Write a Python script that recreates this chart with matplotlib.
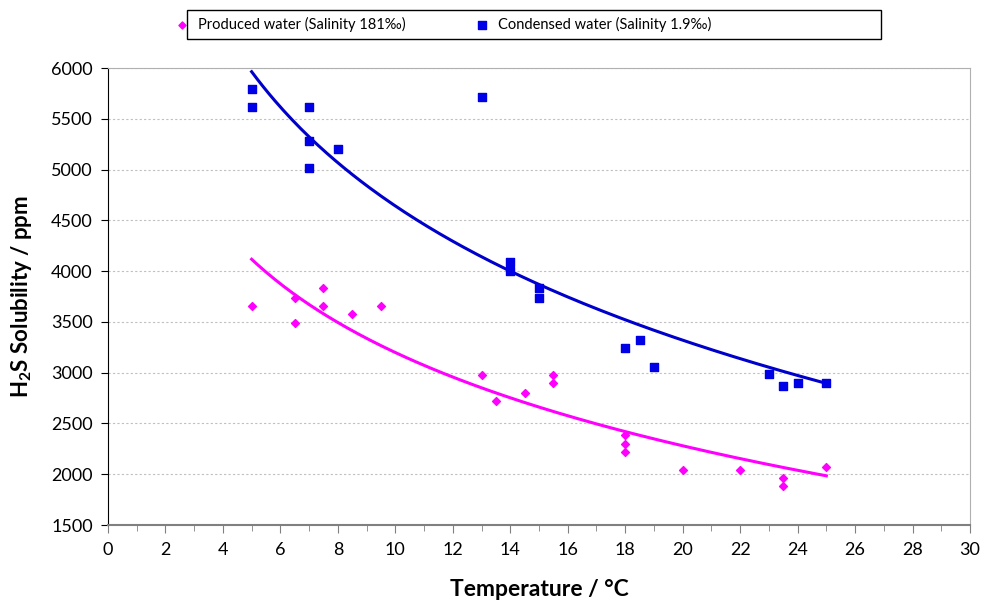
import numpy as np
import matplotlib.pyplot as plt
from matplotlib.ticker import MultipleLocator
from matplotlib.patches import Rectangle

plt.rcParams['font.family'] = ['Lato', 'DejaVu Sans']
plt.rcParams['mathtext.fontset'] = 'custom'
plt.rcParams['mathtext.bf'] = 'Lato:bold'

# Produced water (salinity 181 permil)
prod_t = [5, 6.5, 6.5, 7.5, 7.5, 8.5, 9.5, 13, 13.5, 14.5, 15.5, 15.5,
          18, 18, 18, 20, 22, 23.5, 23.5, 25]
prod_s = [3660, 3740, 3490, 3830, 3660, 3580, 3660, 2980, 2720, 2800, 2980, 2900,
          2390, 2300, 2220, 2040, 2040, 1960, 1880, 2070]

# Condensed water (salinity 1.9 permil)
cond_t = [5, 5, 7, 7, 7, 8, 13, 14, 14, 15, 15, 18, 18.5, 19, 23, 23.5, 24, 25]
cond_s = [5790, 5620, 5620, 5280, 5020, 5200, 5710, 4090, 4000, 3830, 3740,
          3240, 3320, 3060, 2990, 2870, 2900, 2900]

x_ticks = list(range(0, 31, 2))
y_ticks = list(range(1500, 6001, 500))


def log_trend(t, s):
    # same as an Excel logarithmic trendline: y = a*ln(x) + b
    b, a = np.polyfit(np.log(t), s, 1)
    xx = np.linspace(min(t), max(t), 200)
    return xx, b * np.log(xx) + a


fig = plt.figure(figsize=(9.85, 6.05), dpi=100)
ax = fig.add_axes([0.1096, 0.1322, 0.8752, 0.7554])

ax.scatter(prod_t, prod_s, marker="D", s=16, color="#ff00ff", zorder=3,
           label="Produced water (Salinity 181\u2030)")
ax.scatter(cond_t, cond_s, marker="s", s=32, color="#0000e6", zorder=3,
           label="Condensed water (Salinity 1.9\u2030)")

xx, yy = log_trend(prod_t, prod_s)
ax.plot(xx, yy, color="#ff00ff", lw=2.2, zorder=2)
xx, yy = log_trend(cond_t, cond_s)
ax.plot(xx, yy, color="#0000cc", lw=2.2, zorder=2)

ax.set_xlim(0, 30)
ax.set_ylim(1500, 6000)
ax.set_xticks(x_ticks)
ax.set_yticks(y_ticks)
ax.xaxis.set_minor_locator(MultipleLocator(1))
ax.tick_params(axis="both", labelsize=13, colors="black")
ax.tick_params(axis="x", which="major", direction="out", length=6, color="#808080", pad=6)
ax.tick_params(axis="x", which="minor", direction="out", length=4, color="#808080")
ax.tick_params(axis="y", direction="out", length=5, color="black", pad=6)
ax.grid(axis="y", color="#c0c0c0", linestyle=(0, (2, 2)), lw=0.8)

ax.spines["left"].set_color("black")
ax.spines["bottom"].set_color("#808080")
ax.spines["bottom"].set_linewidth(1.5)
ax.spines["top"].set_color("#b0b0b0")
ax.spines["right"].set_color("#b0b0b0")

ax.set_xlabel("Temperature / \u00b0C", fontsize=16.5, fontweight="bold")
ax.xaxis.set_label_coords(0.5, -0.118)
ax.set_ylabel("H$_\\mathbf{2}$S Solubility / ppm", fontsize=16, fontweight="bold")
ax.yaxis.set_label_coords(-0.086, 0.5)

# legend box drawn like the spreadsheet one, entries left of centre
fig.patches.append(Rectangle((187 / 985, 1 - 39 / 605), 694 / 985, 29 / 605,
                             transform=fig.transFigure, fill=False,
                             edgecolor="black", lw=1.0))
leg = fig.legend(loc="center", bbox_to_anchor=(0.446, 1 - 24.5 / 605),
                 ncol=2, fontsize=10.5, frameon=False, handletextpad=0.1,
                 columnspacing=4.2, markerscale=0.9)

plt.savefig("out.png", dpi=100)
